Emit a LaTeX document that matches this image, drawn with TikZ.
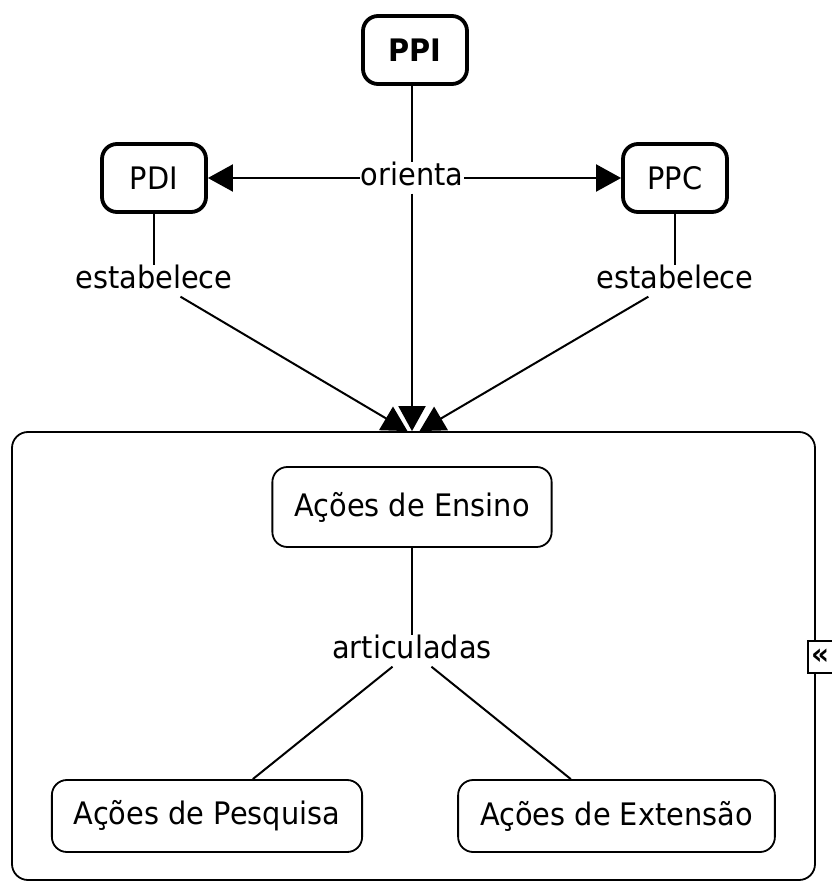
\documentclass[tikz,border=0pt]{standalone}
\usepackage{fontspec}
\setmainfont[FakeStretch=0.93]{DejaVu Sans}
\usetikzlibrary{arrows.meta, positioning}

\begin{document}
\begin{tikzpicture}
    [
        x=1pt, y=-1pt,
        conceito/.style = {
            draw, line width=1.8pt, rounded corners=15pt,
            minimum width=104pt, minimum height=72pt, inner xsep=22pt,
            font=\fontsize{31}{36}\selectfont
        },
        documento/.style = {
            conceito, line width=3.8pt, minimum height=68pt
        },
        rotulo/.style = {
            inner sep=1pt, text height=22pt, text depth=7pt,
            font=\fontsize{31}{36}\selectfont
        },
        ligacao/.style = {
            line width=2pt
        },
        seta/.style = {
            ligacao, -{Triangle[length=25pt, width=27pt]}
        },
    ]
    \useasboundingbox (0,0) rectangle (831,882);
    % caixa que agrupa as acoes
    \node[draw, line width=1.8pt, rounded corners=16pt, minimum width=803pt, minimum height=448pt] (grupo) at (413.5,656) {};
    \node[draw, line width=1.8pt, fill=white, minimum width=34pt, minimum height=32pt, inner sep=0pt, font=\bfseries\fontsize{30}{30}\selectfont] (recolher) at (825,657) {«\hspace*{10pt}};

    \node[documento, font=\fontsize{31}{36}\selectfont\bfseries] (PPI) at (415,50) {PPI};
    \node[documento] (PDI) at (154,178) {PDI};
    \node[documento] (PPC) at (675,178) {PPC};
    \node[rotulo] (orienta) at (412,178) {orienta};
    \node[rotulo] (estabE) at (154,281) {estabelece};
    \node[rotulo] (estabD) at (675,281) {estabelece};

    \node[conceito, minimum height=80pt] (ensino) at (412,507) {Ações de Ensino};
    \node[rotulo] (articuladas) at (412,651) {articuladas};
    \node[conceito] (pesquisa) at (207,816) {Ações de Pesquisa};
    \node[conceito] (extensao) at (616.5,816) {Ações de Extensão};

    %\draw[help lines] (0,0) grid (831,882);
    \draw[ligacao] (PPI.south -| orienta) -- (orienta);
    \draw[seta] (orienta) -- (PDI);
    \draw[seta] (orienta) -- (PPC);
    \draw[seta] (orienta) -- (orienta |- grupo.north);
    \draw[ligacao] (PDI) -- (estabE);
    \draw[ligacao] (PPC) -- (estabD);
    \draw[seta] (estabE) -- ([xshift=-6pt]grupo.north);
    \draw[seta] (estabD) -- ([xshift=6pt]grupo.north);
    \draw[ligacao] (ensino) -- (articuladas);
    \draw[ligacao] (articuladas) -- (pesquisa);
    \draw[ligacao] (articuladas) -- (extensao);
\end{tikzpicture}
\end{document}
